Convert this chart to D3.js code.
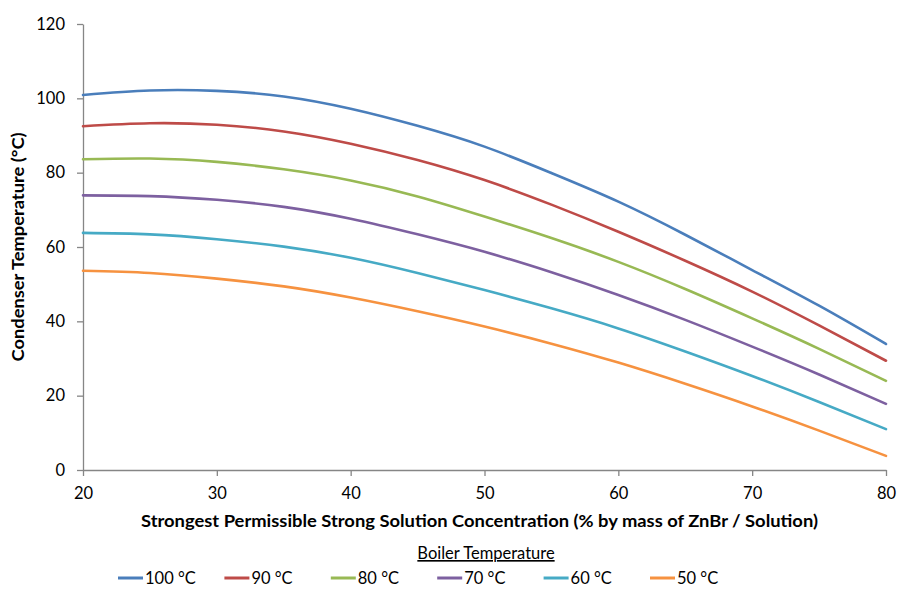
<!DOCTYPE html>
<html><head><meta charset="utf-8">
<script src="https://cdn.jsdelivr.net/npm/d3@7"></script>
<style>body{margin:0;background:#fff}svg{display:block}</style>
</head><body><svg id="c" width="899" height="590"></svg>
<script>
const concentration = [20, 25, 30, 35, 40, 45, 50, 55, 60, 65, 70, 75, 80];
const t100 = [100.9, 102.1, 102.0, 100.5, 97.2, 92.6, 87.0, 79.9, 72.2, 63.3, 53.8, 44.2, 33.9];
const t90  = [92.5, 93.3, 92.9, 91.1, 87.8, 83.4, 78.0, 71.4, 64.1, 56.3, 48.0, 38.9, 29.4];
const t80  = [83.6, 83.8, 82.9, 80.9, 77.9, 73.6, 68.2, 62.4, 56.0, 48.7, 40.8, 32.6, 24.0];
const t70  = [73.9, 73.7, 72.7, 70.8, 67.6, 63.4, 58.7, 53.2, 47.1, 40.4, 33.2, 25.7, 17.8];
const t60  = [63.8, 63.4, 62.1, 60.1, 57.1, 53.0, 48.4, 43.5, 38.1, 31.9, 25.3, 18.3, 11.0];
const t50  = [53.6, 53.0, 51.5, 49.4, 46.4, 42.7, 38.6, 34.0, 28.9, 23.2, 17.1, 10.6, 3.8];
const seriesNames = ["100 °C", "90 °C", "80 °C", "70 °C", "60 °C", "50 °C"];
const seriesValues = [t100, t90, t80, t70, t60, t50];
const colors = ["#4A7EBB", "#BE4B48", "#98B954", "#7D60A0", "#46AAC5", "#F69240"];
const xTicks = [20, 30, 40, 50, 60, 70, 80];
const yTicks = [0, 20, 40, 60, 80, 100, 120];

const svg = d3.select("#c");
const font = "Lato, 'Open Sans', sans-serif";
const x = d3.scaleLinear().domain([20, 80]).range([83, 886]);
const y = d3.scaleLinear().domain([0, 120]).range([470, 24]);
const axisColor = "#868686";

const yAxis = svg.append("g").attr("transform", "translate(83,0)")
  .call(d3.axisLeft(y).tickValues(yTicks).tickSize(6).tickPadding(12).tickSizeOuter(0));
const xAxis = svg.append("g").attr("transform", "translate(0,470)")
  .call(d3.axisBottom(x).tickValues(xTicks).tickSize(6).tickPadding(11).tickSizeOuter(0));
[yAxis, xAxis].forEach(a => {
  a.select(".domain").attr("stroke", axisColor).attr("stroke-width", 1.3);
  a.selectAll(".tick line").attr("stroke", axisColor).attr("stroke-width", 1.3);
  a.selectAll(".tick text").attr("fill", "#000").attr("font-family", font).attr("font-size", 16.5);
});

const line = d3.line().x((d, i) => x(concentration[i])).y(d => y(d)).curve(d3.curveNatural);
seriesValues.forEach((vals, k) => {
  svg.append("path").attr("d", line(vals)).attr("fill", "none")
    .attr("stroke", colors[k]).attr("stroke-width", 2.6).attr("stroke-linecap", "round");
});

svg.append("text").attr("transform", "translate(24,247) rotate(-90)")
  .attr("text-anchor", "middle").attr("font-family", font).attr("font-weight", "bold")
  .attr("font-size", 17).attr("textLength", 229).attr("lengthAdjust", "spacingAndGlyphs")
  .text("Condenser Temperature (°C)");
svg.append("text").attr("x", 479.5).attr("y", 527)
  .attr("text-anchor", "middle").attr("font-family", font).attr("font-weight", "bold")
  .attr("font-size", 17).attr("textLength", 677).attr("lengthAdjust", "spacingAndGlyphs")
  .text("Strongest Permissible Strong Solution Concentration (% by mass of ZnBr / Solution)");

svg.append("text").attr("x", 486).attr("y", 559).attr("text-anchor", "middle")
  .attr("font-family", font).attr("font-size", 16.5).attr("text-decoration", "underline")
  .text("Boiler Temperature");

const lg = svg.append("g");
seriesNames.forEach((n, k) => {
  const x0 = 118 + k * 106.4;
  lg.append("line").attr("x1", x0).attr("x2", x0 + 25).attr("y1", 578).attr("y2", 578)
    .attr("stroke", colors[k]).attr("stroke-width", 3);
  lg.append("text").attr("x", x0 + 27).attr("y", 584).attr("font-family", font)
    .attr("font-size", 16.5).text(n);
});
</script></body></html>
